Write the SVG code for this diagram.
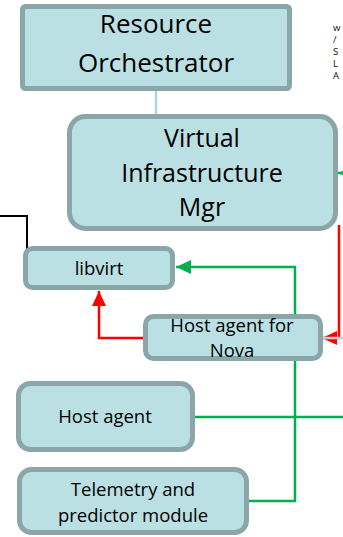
<svg xmlns="http://www.w3.org/2000/svg" width="343" height="537" viewBox="0 0 343 537">
  <style>
    .box { fill: #bae0e3; stroke: #8aa6a9; stroke-width: 5; }
    .lbl { font-family: "Open Sans", "Liberation Sans", sans-serif; fill: #000; text-anchor: middle; }
    .big { font-size: 26px; }
    .mid { font-size: 25px; }
    .sm { font-size: 18.5px; }
    .tiny { font-family: "Open Sans", "Liberation Sans", sans-serif; font-size: 9.5px; fill: #111; }
    .green { fill: none; stroke: #00b050; stroke-width: 2.5; }
    .red { fill: none; stroke: #ff0000; stroke-width: 2.5; }
  </style>
  <defs>
    <marker id="arrowGreen" markerUnits="userSpaceOnUse" markerWidth="16" markerHeight="16" viewBox="0 0 16 16" refX="15" refY="8" orient="auto">
      <path d="M0,1 L15,8 L0,15 Z" fill="#00b050"/>
    </marker>
    <marker id="arrowRed" markerUnits="userSpaceOnUse" markerWidth="16" markerHeight="16" viewBox="0 0 16 16" refX="15" refY="8" orient="auto">
      <path d="M0,1 L15,8 L0,15 Z" fill="#ff0000"/>
    </marker>
  </defs>

  <!-- connectors -->
  <g id="connectors">
    <line x1="156" y1="91" x2="156" y2="115" stroke="#a9d8dc" stroke-width="2.5"/>
    <path d="M0,216 H27 V268" fill="none" stroke="#000" stroke-width="2"/>
    <path class="green" d="M360,173 H338" marker-end="url(#arrowGreen)"/>
    <path class="red" d="M339,225 V338 H322" marker-end="url(#arrowRed)"/>
    <line x1="321" y1="338" x2="343" y2="338" stroke="#b4d6da" stroke-width="2.5"/>
    <path class="red" d="M143,338 H99 V291" marker-end="url(#arrowRed)"/>
    <path class="green" d="M249,501 H295 V267 H176" marker-end="url(#arrowGreen)"/>
    <path class="green" d="M195,417 H343"/>
  </g>

  <g id="resource-orchestrator">
    <rect class="box" x="22.5" y="6.5" width="267" height="82" rx="3"/>
    <text class="lbl big" x="156" y="33">Resource</text>
    <text class="lbl big" x="156" y="72">Orchestrator</text>
  </g>

  <g id="virtual-infrastructure-mgr">
    <rect class="box" x="69.5" y="116.5" width="266" height="112" rx="16"/>
    <text class="lbl mid" x="202" y="147">Virtual</text>
    <text class="lbl mid" x="202" y="182">Infrastructure</text>
    <text class="lbl mid" x="202" y="216">Mgr</text>
  </g>

  <g id="libvirt">
    <rect class="box" x="25.5" y="248.5" width="147" height="39" rx="7"/>
    <text class="lbl sm" x="99" y="275">libvirt</text>
  </g>

  <g id="host-agent-nova">
    <rect class="box" x="145.5" y="316.5" width="175" height="42" rx="8"/>
    <text class="lbl sm" x="232" y="332">Host agent for</text>
    <text class="lbl sm" x="232" y="357">Nova</text>
  </g>

  <g id="host-agent">
    <rect class="box" x="18.5" y="383.5" width="174" height="66" rx="12"/>
    <text class="lbl sm" x="105" y="423">Host agent</text>
  </g>

  <g id="telemetry-predictor">
    <rect class="box" x="19.5" y="469.5" width="227" height="63" rx="12"/>
    <text class="lbl sm" x="133" y="496">Telemetry and</text>
    <text class="lbl sm" x="133" y="522">predictor module</text>
  </g>

  <g id="sla-note">
    <text class="tiny" x="333" y="31">w</text>
    <text class="tiny" x="333" y="43">/</text>
    <text class="tiny" x="333" y="55">S</text>
    <text class="tiny" x="333" y="67">L</text>
    <text class="tiny" x="333" y="79">A</text>
  </g>
</svg>
